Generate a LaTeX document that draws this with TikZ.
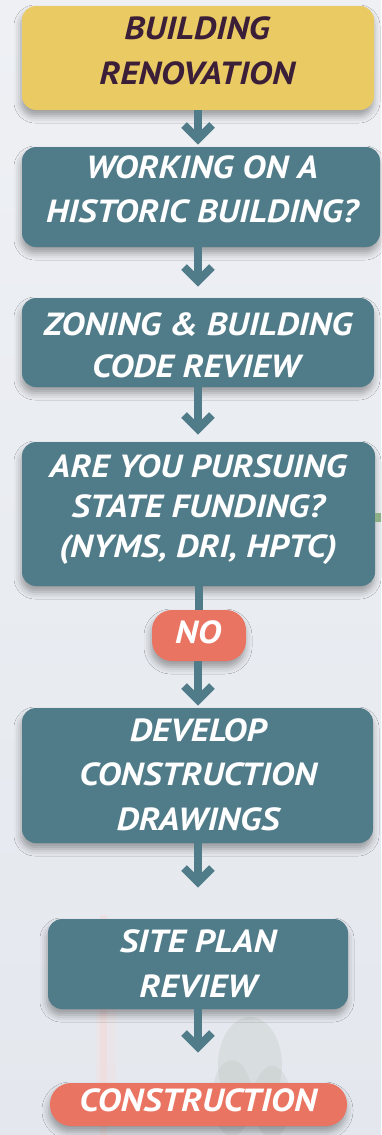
\documentclass[tikz,border=0pt]{standalone}
\usepackage{fontspec}
\newfontfamily\boxfont{PT Sans}[FakeStretch=1.12]
\usetikzlibrary{shadows.blur}
\definecolor{bgtop}{HTML}{EEF0F4}
\definecolor{bgbot}{HTML}{E4E8EE}
\definecolor{ygold}{HTML}{EACA63}
\definecolor{plum}{HTML}{3B1F38}
\definecolor{teal}{HTML}{507C89}
\definecolor{coral}{HTML}{EA7462}
\definecolor{stubgreen}{HTML}{8DAF88}
\definecolor{treegray}{HTML}{BCC4BE}
\tikzset{
  box/.style={rectangle, rounded corners=14pt, inner sep=0pt, fill=teal,
    blur shadow={shadow xshift=-1pt, shadow yshift=-6pt, shadow blur radius=7pt, shadow opacity=35}},
  startbox/.style={box, fill=ygold},
  pill/.style={box, fill=coral, rounded corners=20pt},
  txt/.style={anchor=base, inner sep=0pt, font=\boxfont\bfseries\itshape\fontsize{32}{36}\selectfont, text=white},
  darktxt/.style={txt, text=plum},
  shaft/.style={draw=teal, line width=8pt},
  arrowline/.style={draw=teal, line width=8pt, line join=miter},
  chev/.pic={\draw[arrowline] (-14,-20) -- (0,-6) -- (14,-20);},
}
\begin{document}
\begin{tikzpicture}[x=1pt, y=-1pt]
\useasboundingbox (0,0) rectangle (381,1135);
\shade[top color=bgtop, bottom color=bgbot] (0,0) rectangle (381,1135);
% faint background photo: tree and flagpole
\fill[treegray, opacity=0.30] (250,1065) ellipse (32 and 48);
\fill[treegray, opacity=0.25] (232,1098) ellipse (20 and 38);
\fill[treegray, opacity=0.25] (272,1102) ellipse (19 and 36);
\fill[coral!35!white, opacity=0.30] (100,915) rectangle (107,1135);
\fill[coral!25!white, opacity=0.25] (96,970) rectangle (116,1090);

% boxes
\node[startbox, minimum width=352pt, minimum height=104pt] (b1) at (198,58) {};
\node[box, minimum width=358pt, minimum height=100pt] (b2) at (201,197) {};
\node[box, minimum width=352pt, minimum height=89pt] (b3) at (198,342.5) {};
\node[box, minimum width=353pt, minimum height=144pt] (b4) at (198.5,514) {};
\node[pill, minimum width=94pt, minimum height=51pt] (no) at (199,635.5) {};
\node[box, minimum width=351pt, minimum height=135pt] (b5) at (197.5,775.5) {};
\node[box, minimum width=300pt, minimum height=90pt] (b6) at (198,964) {};
\node[pill, rounded corners=21pt, minimum width=297pt, minimum height=43pt] (con) at (198.5,1104.5) {};

% texts
\node[darktxt] (t1a) at (197,39) {BUILDING};
\node[darktxt] (t1b) at (197,84) {RENOVATION};
\node[txt] (t2a) at (202,178) {WORKING ON A};
\node[txt] (t2b) at (202,222) {HISTORIC BUILDING?};
\node[txt] (t3a) at (198,335) {ZONING \& BUILDING};
\node[txt] (t3b) at (196,377) {CODE REVIEW};
\node[txt] (t4a) at (198,477) {ARE YOU PURSUING};
\node[txt] (t4b) at (198,517) {STATE FUNDING?};
\node[txt] (t4c) at (198,557) {(NYMS, DRI, HPTC)};
\node[txt] (tno) at (198,643) {NO};
\node[txt] (t5a) at (198,741) {DEVELOP};
\node[txt] (t5b) at (198,785) {CONSTRUCTION};
\node[txt] (t5c) at (198,830) {DRAWINGS};
\node[txt] (t6a) at (198,952) {SITE PLAN};
\node[txt] (t6b) at (198,997) {REVIEW};
\node[txt] (tcon) at (198,1111) {CONSTRUCTION};

% arrow tips
\coordinate (a1) at (198,145);
\coordinate (a2) at (198,287);
\coordinate (a3) at (198,435);
\coordinate (a5) at (198,706);
\coordinate (a6) at (198,888);
\coordinate (a7) at (198,1053);
\coordinate (gedge) at (381,517.5);

% connectors
\draw[shaft, shorten >=6pt] (b1.south -| a1) -- (a1);
\draw[shaft, shorten >=6pt] (b2.south -| a2) -- (a2);
\draw[shaft, shorten >=6pt] (b3.south -| a3) -- (a3);
\draw[shaft] (b4.south -| no.north) -- (no.north);
\draw[shaft, shorten >=6pt] (no.south -| a5) -- (a5);
\draw[shaft, shorten >=6pt] (b5.south -| a6) -- (a6);
\draw[shaft, shorten >=6pt] (b6.south -| a7) -- (a7);
\draw[draw=stubgreen, line width=9pt] (b4.east |- gedge) -- (gedge);
\foreach \tp in {a1,a2,a3,a5,a6,a7} \pic at (\tp) {chev};
\end{tikzpicture}
\end{document}
